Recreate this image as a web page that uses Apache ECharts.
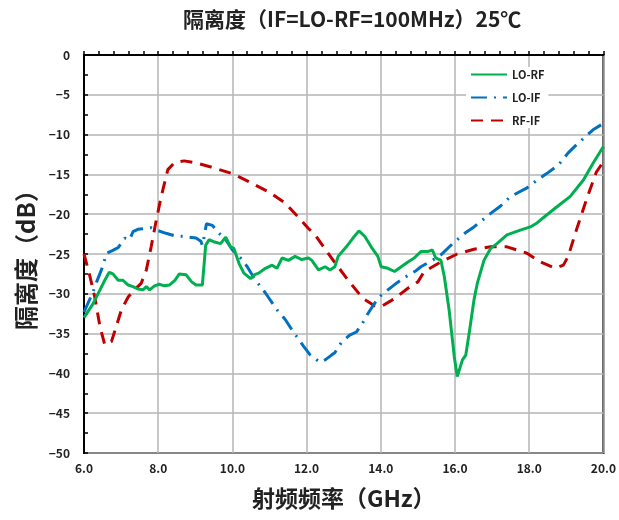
<!DOCTYPE html>
<html>
<head>
<meta charset="utf-8">
<script src="https://cdn.jsdelivr.net/npm/echarts@6/dist/echarts.min.js"></script>
<style>
  html, body { margin: 0; padding: 0; background: #fff; }
  #chart { width: 619px; height: 520px; }
</style>
</head>
<body>
<div id="chart"></div>
<script>
// Isolation vs RF frequency, IF = LO - RF = 100 MHz, 25 °C

// LO-RF isolation
const loRfFreq = [6.00, 6.25, 6.43, 6.56, 6.68, 6.78, 6.92, 7.05, 7.19, 7.32, 7.45, 7.59, 7.68, 7.77, 7.90, 8.03, 8.17, 8.30, 8.45, 8.57, 8.75, 8.90, 9.02, 9.19, 9.24, 9.28, 9.37, 9.52, 9.68, 9.82, 9.95, 10.04, 10.18, 10.31, 10.49, 10.60, 10.71, 10.89, 11.07, 11.20, 11.34, 11.51, 11.69, 11.87, 12.05, 12.14, 12.32, 12.50, 12.63, 12.76, 12.85, 13.07, 13.25, 13.41, 13.57, 13.74, 13.92, 14.01, 14.19, 14.37, 14.55, 14.73, 14.90, 15.08, 15.26, 15.39, 15.48, 15.62, 15.71, 15.84, 15.98, 16.06, 16.11, 16.20, 16.29, 16.38, 16.51, 16.60, 16.78, 16.96, 17.13, 17.40, 17.76, 18.03, 18.21, 18.47, 18.74, 19.10, 19.46, 19.72, 20.00];
const loRfVal = [-33.0, -31.2, -29.5, -28.3, -27.3, -27.5, -28.3, -28.3, -28.9, -29.1, -29.4, -29.5, -29.1, -29.5, -29.0, -28.8, -29.0, -28.9, -28.3, -27.5, -27.6, -28.5, -28.9, -28.9, -28.7, -23.9, -23.2, -23.5, -23.7, -22.9, -24.1, -24.3, -26.2, -27.4, -28.1, -27.6, -27.4, -26.8, -26.4, -26.8, -25.5, -25.8, -25.3, -25.7, -25.5, -25.8, -27.0, -26.6, -27.0, -26.6, -25.3, -24.1, -23.0, -22.1, -22.8, -24.1, -25.3, -26.6, -26.8, -27.2, -26.6, -26.0, -25.5, -24.7, -24.7, -24.5, -25.5, -25.8, -27.8, -32.0, -37.9, -40.4, -40.6, -38.3, -37.7, -35.0, -30.8, -28.7, -25.8, -24.3, -23.7, -22.6, -22.0, -21.6, -21.1, -20.1, -19.1, -17.8, -15.7, -13.6, -11.5];

// LO-IF isolation
const loIfFreq = [6.00, 6.25, 6.34, 6.47, 6.61, 6.75, 6.92, 7.10, 7.23, 7.32, 7.45, 7.63, 7.80, 7.95, 8.21, 8.44, 8.70, 9.02, 9.15, 9.19, 9.24, 9.30, 9.46, 9.64, 9.82, 10.00, 10.22, 10.40, 10.53, 10.71, 10.89, 11.20, 11.42, 11.60, 11.92, 12.10, 12.36, 12.50, 12.67, 12.76, 12.94, 13.16, 13.34, 13.48, 13.65, 13.83, 14.01, 14.19, 14.44, 14.73, 14.95, 15.08, 15.39, 15.62, 15.98, 16.29, 16.51, 16.96, 17.22, 17.49, 17.94, 18.19, 18.47, 18.79, 19.05, 19.27, 19.72, 20.00];
const loIfVal = [-32.3, -29.7, -28.5, -27.0, -24.9, -24.6, -24.2, -23.0, -23.2, -22.2, -21.9, -21.8, -21.7, -22.0, -22.4, -22.7, -22.8, -23.0, -23.4, -23.9, -22.8, -21.2, -21.4, -22.4, -23.2, -24.5, -25.5, -26.6, -27.6, -28.8, -29.9, -32.0, -33.2, -34.5, -36.6, -37.7, -38.6, -38.3, -37.7, -37.4, -36.1, -35.2, -34.8, -33.9, -32.5, -31.2, -30.2, -29.5, -28.6, -27.7, -27.1, -26.6, -25.8, -25.1, -23.5, -22.3, -21.6, -19.9, -19.0, -17.8, -16.7, -15.8, -14.9, -13.8, -12.3, -11.3, -9.4, -8.6];

// RF-IF isolation
const rfIfFreq = [6.00, 6.16, 6.29, 6.43, 6.56, 6.61, 6.74, 6.87, 7.01, 7.19, 7.36, 7.54, 7.68, 7.81, 7.95, 8.08, 8.26, 8.44, 8.70, 8.97, 9.37, 10.00, 10.44, 10.98, 11.42, 11.78, 12.05, 12.23, 12.67, 13.12, 13.52, 13.83, 14.01, 14.37, 14.73, 15.00, 15.17, 15.62, 16.06, 16.51, 16.96, 17.40, 17.94, 18.30, 18.70, 18.92, 19.05, 19.27, 19.54, 19.81, 20.00];
const rfIfVal = [-25.0, -27.8, -30.4, -34.1, -36.4, -36.6, -36.0, -34.1, -32.0, -30.4, -29.5, -28.7, -27.0, -24.1, -20.7, -17.8, -14.4, -13.5, -13.3, -13.5, -14.0, -14.9, -15.9, -17.2, -18.6, -20.4, -21.8, -22.6, -25.5, -28.3, -30.6, -31.5, -31.6, -30.6, -29.3, -28.5, -27.2, -26.0, -25.0, -24.4, -24.1, -24.1, -24.9, -26.0, -26.8, -26.4, -25.3, -22.0, -18.2, -14.7, -13.4];

const seriesNames = ['LO-RF', 'LO-IF', 'RF-IF'];
const xTicks = [6, 8, 10, 12, 14, 16, 18, 20];
const yTicks = [0, -5, -10, -15, -20, -25, -30, -35, -40, -45, -50];

const pair = (xs, ys) => xs.map((x, i) => [x, ys[i]]);

const FONT = '"Noto Sans CJK SC", "Noto Sans", sans-serif';

const chart = echarts.init(document.getElementById('chart'), null, { renderer: 'canvas' });

chart.setOption({
  animation: false,
  backgroundColor: '#ffffff',
  title: {
    text: '隔离度（IF=LO-RF=100MHz）25℃',
    left: 178,
    top: 4,
    textStyle: { fontFamily: FONT, fontSize: 21, fontWeight: 'bold', color: '#222' }
  },
  legend: {
    orient: 'vertical',
    left: 466,
    top: 67,
    itemWidth: 36,
    itemHeight: 12,
    itemGap: 12,
    backgroundColor: '#ffffff',
    padding: [2, 4],
    itemStyle: { opacity: 0 },
    textStyle: { fontFamily: FONT, fontSize: 11, fontWeight: 'bold', color: '#222' },
    data: seriesNames
  },
  grid: {
    left: 84, right: 12, top: 55, bottom: 67,
    show: true, borderColor: '#000', borderWidth: 2
  },
  xAxis: {
    type: 'value',
    min: xTicks[0],
    max: xTicks[xTicks.length - 1],
    interval: 2,
    name: '射频频率（GHz）',
    nameLocation: 'middle',
    nameGap: 34,
    nameTextStyle: { fontFamily: FONT, fontSize: 23, fontWeight: 'bold', color: '#222' },
    axisLine: { show: true, lineStyle: { color: '#000', width: 2 } },
    axisTick: { show: true, inside: true, length: 4, lineStyle: { color: '#000', width: 1.5 } },
    minorTick: { show: true, splitNumber: 5, length: 4, lineStyle: { color: '#000', width: 1.5 } },
    axisLabel: {
      margin: 9,
      fontFamily: FONT, fontSize: 12, fontWeight: 'bold', color: '#222',
      formatter: v => v.toFixed(1)
    },
    splitLine: { show: true, lineStyle: { color: '#b4b4b4', width: 1.5 } }
  },
  yAxis: {
    type: 'value',
    min: yTicks[yTicks.length - 1],
    max: yTicks[0],
    interval: 5,
    name: '隔离度（dB）',
    nameLocation: 'middle',
    nameGap: 45,
    nameRotate: 90,
    nameTextStyle: { fontFamily: FONT, fontSize: 24, fontWeight: 'bold', color: '#222' },
    axisLine: { show: true, lineStyle: { color: '#000', width: 2 } },
    axisTick: { show: true, inside: true, length: 4, lineStyle: { color: '#000', width: 1.5 } },
    minorTick: { show: true, splitNumber: 2, length: 4, lineStyle: { color: '#000', width: 1.5 } },
    axisLabel: {
      margin: 14,
      fontFamily: FONT, fontSize: 12, fontWeight: 'bold', color: '#222',
      formatter: v => (v < 0 ? '\u2212' + Math.abs(v) : String(v))
    },
    splitLine: { show: true, lineStyle: { color: '#b4b4b4', width: 1.5 } }
  },
  series: [
    {
      name: seriesNames[0],
      type: 'line',
      data: pair(loRfFreq, loRfVal),
      showSymbol: false, symbol: 'none',
      itemStyle: { color: '#00b050' },
      lineStyle: { color: '#00b050', width: 3 },
      z: 4
    },
    {
      name: seriesNames[1],
      type: 'line',
      data: pair(loIfFreq, loIfVal),
      showSymbol: false, symbol: 'none',
      itemStyle: { color: '#0070c0' },
      lineStyle: { color: '#0070c0', width: 3, type: [16, 7, 2, 7] },
      z: 3
    },
    {
      name: seriesNames[2],
      type: 'line',
      data: pair(rfIfFreq, rfIfVal),
      showSymbol: false, symbol: 'none',
      itemStyle: { color: '#c00000' },
      lineStyle: { color: '#c00000', width: 3, type: [12, 8] },
      z: 2
    }
  ]
});
</script>
</body>
</html>
